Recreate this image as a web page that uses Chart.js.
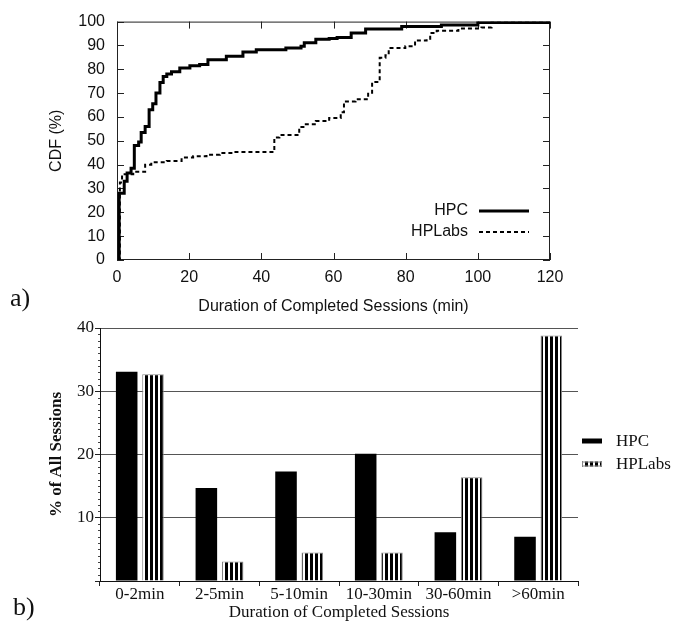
<!DOCTYPE html>
<html>
<head>
<meta charset="utf-8">
<script src="https://cdn.jsdelivr.net/npm/chart.js@4.4.1/dist/chart.umd.min.js"></script>
<style>
  html, body { margin: 0; padding: 0; background: #fff; }
  #page { position: relative; width: 680px; height: 623px; overflow: hidden; }
  .panel { position: absolute; left: 0; width: 680px; }
  .tag { position: absolute; font-family: "Liberation Serif", serif; font-size: 26px; line-height: 1; color: #111; }
</style>
</head>
<body>
<div id="page">
  <div class="panel" style="top:0;height:320px;"><canvas id="cdfChart" width="680" height="320"></canvas></div>
  <div class="panel" style="top:310px;height:313px;"><canvas id="barChart" width="680" height="313"></canvas></div>
  <div class="tag" style="left:10px;top:285px;">a)</div>
  <div class="tag" style="left:13px;top:594px;">b)</div>
</div>
<script>
// a) CDF of session duration (minutes -> %)
const hpcMinutes  = [0.4, 0.6, 2.0, 2.8, 3.9, 4.8, 6.0, 6.7, 7.8, 8.9, 9.9, 10.8, 11.9, 12.8, 13.8, 15.1, 17.4, 20.2, 22.9, 25.2, 30.3, 34.9, 38.6, 46.8, 51.0, 51.9, 55.1, 58.8, 61.0, 64.9, 68.9, 78.9, 89.9, 100, 120];
const hpcCdf      = [0, 28, 33, 36.5, 38.5, 48, 49.5, 53.5, 56, 63, 65.5, 70, 74.5, 77, 78, 79, 80.5, 81.5, 82, 84, 85.5, 87.3, 88.2, 88.9, 89.7, 91.1, 92.6, 92.9, 93.3, 95.2, 96.9, 97.9, 98.6, 99.6, 100];
const labsMinutes = [0.4, 0.8, 1.4, 4.5, 7.8, 9.5, 13.8, 17.9, 21.1, 24.8, 28.5, 32.0, 43.6, 45.0, 50.5, 52.0, 55.1, 58.8, 62.0, 62.9, 66.1, 69.6, 70.7, 72.8, 74.4, 75.3, 79.9, 82.6, 85.8, 86.8, 88.6, 94.6, 101, 103.8, 120];
const labsCdf     = [0, 32.5, 36, 37, 40, 41, 41.5, 43, 43.5, 44.2, 44.9, 45.3, 51.4, 52.4, 55.8, 56.9, 58.3, 59.6, 62, 66.5, 67.4, 70.2, 74.7, 84.8, 85.9, 88.9, 89.7, 92.1, 92.8, 95.2, 96.2, 97.1, 97.5, 99.6, 100];

// b) share of sessions per duration bucket (%)
const bucketLabels = ['0-2min', '2-5min', '5-10min', '10-30min', '30-60min', '>60min'];
const hpcShare  = [33.1, 14.7, 17.3, 20.1, 7.7, 7.0];
const labsShare = [32.7, 3.1, 4.5, 4.5, 16.4, 38.8];

const SANS = '"Liberation Sans", Arial, sans-serif';
const SERIF = '"Liberation Serif", "Times New Roman", serif';

Chart.defaults.color = '#111';
Chart.defaults.animation = false;

function toPoints(xs, ys) {
    return xs.map((v, i) => ({ x: v, y: ys[i] }));
}

// gnuplot-like frame: full box with inward ticks, legend inside the plot
const frameTicks = {
    id: 'frameTicks',
    beforeDatasetsDraw(chart) {
        const { ctx, chartArea: a, scales: { x, y } } = chart;
        ctx.save();
        ctx.strokeStyle = '#222';
        ctx.lineWidth = 1;
        ctx.strokeRect(a.left + 0.5, a.top + 0.5, a.right - a.left - 1, a.bottom - a.top - 1);
        ctx.beginPath();
        x.ticks.forEach(t => {
            const px = Math.round(x.getPixelForValue(t.value)) + 0.5;
            ctx.moveTo(px, a.bottom); ctx.lineTo(px, a.bottom - 7);
            ctx.moveTo(px, a.top); ctx.lineTo(px, a.top + 7);
        });
        y.ticks.forEach(t => {
            const py = Math.round(y.getPixelForValue(t.value)) + 0.5;
            ctx.moveTo(a.left, py); ctx.lineTo(a.left + 7, py);
            ctx.moveTo(a.right, py); ctx.lineTo(a.right - 7, py);
        });
        ctx.stroke();
        ctx.restore();
    },
    afterDraw(chart) {
        const { ctx, chartArea: a } = chart;
        ctx.save();
        ctx.font = '16px ' + SANS;
        ctx.textAlign = 'right';
        ctx.textBaseline = 'middle';
        chart.data.datasets.forEach((ds, i) => {
            const py = a.bottom - 49 + i * 21;
            ctx.fillStyle = '#111';
            ctx.fillText(ds.label, a.right - 82, py);
            ctx.strokeStyle = ds.borderColor;
            ctx.lineWidth = ds.borderWidth;
            ctx.setLineDash(ds.borderDash || []);
            ctx.beginPath();
            ctx.moveTo(a.right - 71, py);
            ctx.lineTo(a.right - 21, py);
            ctx.stroke();
        });
        ctx.restore();
    }
};

new Chart(document.getElementById('cdfChart'), {
    type: 'line',
    data: {
        datasets: [
            { label: 'HPC', data: toPoints(hpcMinutes, hpcCdf), borderColor: '#000', borderWidth: 3, stepped: true, pointRadius: 0, fill: false },
            { label: 'HPLabs', data: toPoints(labsMinutes, labsCdf), borderColor: '#000', borderWidth: 2, borderDash: [4, 3], stepped: true, pointRadius: 0, fill: false }
        ]
    },
    options: {
        responsive: false,
        layout: { padding: { left: 0, right: 130, top: 15, bottom: 0 } },
        plugins: { legend: { display: false }, tooltip: { enabled: false } },
        scales: {
            x: {
                type: 'linear', min: 0, max: 120,
                ticks: { stepSize: 20, font: { family: SANS, size: 16 }, padding: 8, color: '#111' },
                grid: { display: false, drawTicks: false },
                border: { display: false },
                title: { display: true, text: 'Duration of Completed Sessions (min)', font: { family: SANS, size: 16 }, padding: { top: 0, bottom: 4 } },
                afterFit: s => { s.height = 60; }
            },
            y: {
                min: 0, max: 100,
                ticks: { stepSize: 10, font: { family: SANS, size: 16 }, padding: 12, color: '#111' },
                grid: { display: false, drawTicks: false },
                border: { display: false },
                title: { display: true, text: 'CDF (%)', font: { family: SANS, size: 16 }, padding: { top: 47, bottom: 0 } },
                afterFit: s => { s.width = 117; }
            }
        }
    },
    plugins: [frameTicks]
});

// vertical stripe fill for HPLabs bars
function stripes() {
    const c = document.createElement('canvas');
    c.width = 5; c.height = 4;
    const g = c.getContext('2d');
    g.fillStyle = '#fff'; g.fillRect(0, 0, 5, 4);
    g.fillStyle = '#000'; g.fillRect(0, 0, 3, 4);
    return g.createPattern(c, 'repeat');
}
const stripeFill = stripes();

const minorTicksAndLegend = {
    id: 'minorTicksAndLegend',
    afterDraw(chart) {
        const { ctx, chartArea: a, scales: { y } } = chart;
        ctx.save();
        ctx.strokeStyle = '#444';
        ctx.lineWidth = 1;
        ctx.beginPath();
        for (let v = 1; v < 40; v++) {
            if (v % 10 === 0) continue;
            const py = Math.round(y.getPixelForValue(v)) + 0.5;
            ctx.moveTo(a.left - 2, py); ctx.lineTo(a.left, py);
        }
        ctx.stroke();

        ctx.font = '17px ' + SERIF;
        ctx.textAlign = 'left';
        ctx.textBaseline = 'middle';
        const rows = [131, 154];
        chart.data.datasets.forEach((ds, i) => {
            const py = rows[i];
            ctx.fillStyle = ds.backgroundColor;
            ctx.fillRect(a.right + 4, py - 2.5, 20, 5);
            if (ds.borderWidth) {
                ctx.strokeStyle = ds.borderColor;
                ctx.strokeRect(a.right + 4.5, py - 2, 19, 4);
            }
            ctx.fillStyle = '#111';
            ctx.fillText(ds.label, a.right + 38, py + 1);
        });
        ctx.restore();
    }
};

new Chart(document.getElementById('barChart'), {
    type: 'bar',
    data: {
        labels: bucketLabels,
        datasets: [
            { label: 'HPC', data: hpcShare, backgroundColor: '#000', borderWidth: 0 },
            { label: 'HPLabs', data: labsShare, backgroundColor: stripeFill, borderColor: '#888', borderWidth: 1 }
        ]
    },
    options: {
        responsive: false,
        layout: { padding: { left: 0, right: 102, top: 18, bottom: 0 } },
        datasets: { bar: { categoryPercentage: 0.66, barPercentage: 0.82 } },
        plugins: { legend: { display: false }, tooltip: { enabled: false } },
        scales: {
            x: {
                ticks: { font: { family: SERIF, size: 17, lineHeight: 1 }, padding: 0, color: '#111' },
                grid: { display: true, drawOnChartArea: false, tickLength: 5, color: '#222', offset: true },
                border: { display: true, color: '#111' },
                title: { display: true, text: 'Duration of Completed Sessions', font: { family: SERIF, size: 17 }, padding: { top: 0, bottom: 0 } },
                afterFit: s => { s.height = 42; }
            },
            y: {
                min: 0, max: 40,
                ticks: { stepSize: 10, font: { family: SERIF, size: 17 }, padding: 1, color: '#111',
                    callback: v => v === 0 ? '' : v },
                grid: { color: '#555', tickLength: 5, tickColor: '#222' },
                border: { display: true, color: '#111' },
                title: { display: true, text: '% of All Sessions', font: { family: SERIF, size: 17, weight: 'bold' }, padding: { top: 46, bottom: 0 } },
                afterFit: s => { s.width = 100; }
            }
        }
    },
    plugins: [minorTicksAndLegend]
});
</script>
</body>
</html>
